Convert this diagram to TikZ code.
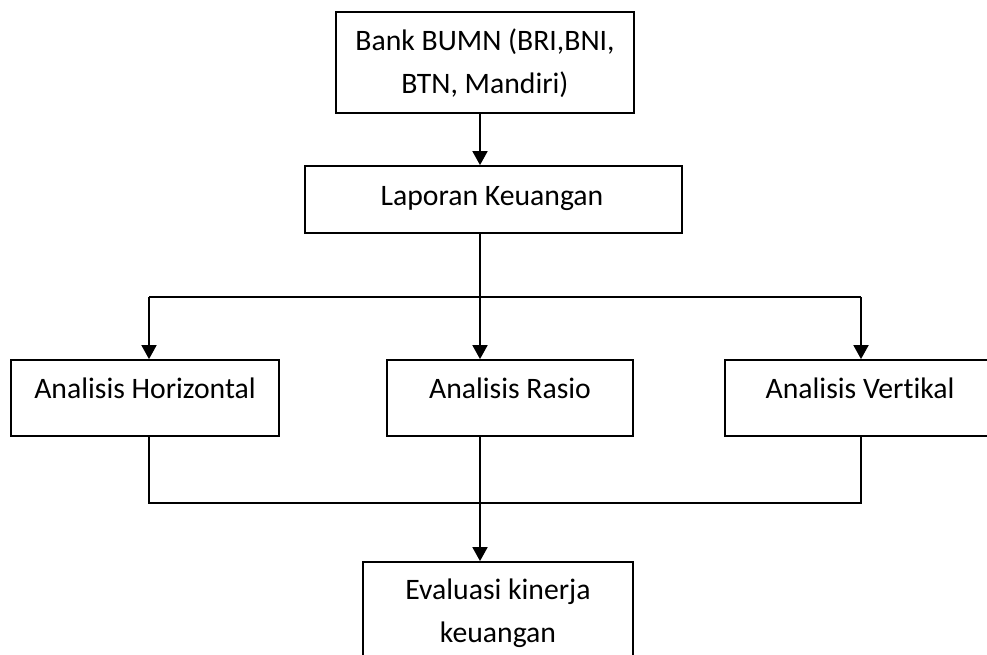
\documentclass[tikz,border=0pt]{standalone}
\usepackage{fontspec}
\setmainfont{Carlito}[Ligatures=CommonOff]
\usetikzlibrary{arrows.meta}
\tikzset{
  box/.style={draw=black, line width=1.8pt, rectangle, inner sep=0pt},
  lbl/.style={anchor=base, inner sep=0pt, font=\fontsize{29.7}{43}\selectfont},
  conn/.style={draw=black, line width=1.8pt},
  arr/.style={conn, -{Triangle[length=14pt,width=15pt]}}
}
\begin{document}
\begin{tikzpicture}[x=1pt,y=-1pt]
\useasboundingbox (0,0) rectangle (987,654);
\clip (0,0) rectangle (987,654);
% boxes
\node[box, minimum width=298pt, minimum height=101pt] (b1) at (485,62.5) {};
\node[box, minimum width=377pt, minimum height=67pt] (b2) at (493.5,199.5) {};
\node[box, minimum width=268pt, minimum height=76pt] (hor) at (145,398) {};
\node[box, minimum width=246pt, minimum height=76pt] (ras) at (510,398) {};
\node[box, minimum width=270pt, minimum height=76pt] (ver) at (860,398) {};
\node[box, minimum width=270pt, minimum height=120pt] (ev) at (498,622) {};
% texts
\node[lbl] (t1a) at (485,50) {Bank BUMN (BRI,BNI,};
\node[lbl] (t1b) at (485,93) {BTN, Mandiri)};
\node[lbl] (t2) at (492,205) {Laporan Keuangan};
\node[lbl] (th) at (145,398) {Analisis Horizontal};
\node[lbl] (tr) at (510,398) {Analisis Rasio};
\node[lbl] (tv) at (860,398) {Analisis Vertikal};
\node[lbl] (te1) at (498,599) {Evaluasi kinerja};
\node[lbl] (te2) at (498,642) {keuangan};
% connector columns
\coordinate (cm) at (480,0);
\coordinate (cl) at (149,0);
\coordinate (cr) at (861,0);
\coordinate (rowa) at (0,297);
\coordinate (rowb) at (0,503);
% connectors
\draw[arr] (b1.south -| cm) -- (b2.north -| cm);
\draw[arr] (b2.south -| cm) -- (ras.north -| cm);
\draw[conn] (cl |- rowa) -- (cr |- rowa);
\draw[arr] (cl |- rowa) -- (hor.north -| cl);
\draw[arr] (cr |- rowa) -- (ver.north -| cr);
\draw[conn] (hor.south -| cl) -- (cl |- rowb) -- (cr |- rowb) -- (ver.south -| cr);
\draw[arr] (ras.south -| cm) -- (ev.north -| cm);
\end{tikzpicture}
\end{document}
